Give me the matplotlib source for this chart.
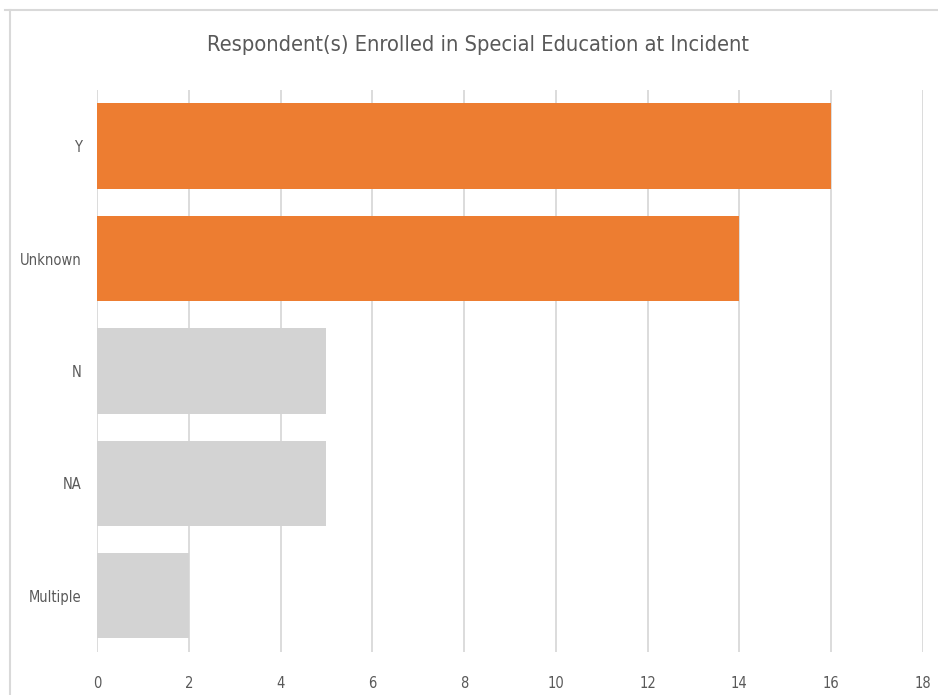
import matplotlib
matplotlib.use("Agg")
import matplotlib.pyplot as plt
from matplotlib.lines import Line2D

categories = ["Y", "Unknown", "N", "NA", "Multiple"]
counts = [16, 14, 5, 5, 2]
highlight = [True, True, False, False, False]
x_ticks = [0, 2, 4, 6, 8, 10, 12, 14, 16, 18]
title = "Respondent(s) Enrolled in Special Education at Incident"

ORANGE = "#ED7D31"
GRAY = "#D3D3D3"
TEXT = "#595959"
GRID = "#D9D9D9"

plt.rcParams["font.family"] = ["DejaVu Sans"]
plt.rcParams["font.stretch"] = "condensed"

fig = plt.figure(figsize=(9.38, 6.95), dpi=100)
ax = fig.add_axes([0.1034, 0.0619, 0.8806, 0.8086])

ypos = list(range(len(categories)))
colors = [ORANGE if h else GRAY for h in highlight]
ax.barh(ypos, counts, height=0.76, color=colors, zorder=3)

ax.set_ylim(len(categories) - 0.5, -0.5)
ax.set_xlim(0, 18)
ax.set_yticks(ypos)
ax.set_yticklabels(categories)
ax.set_xticks(x_ticks)
ax.set_xticklabels([str(t) for t in x_ticks])

ax.grid(axis="x", color=GRID, linewidth=1.3, zorder=0)
ax.grid(axis="y", visible=False)
for s in ax.spines.values():
    s.set_visible(False)
ax.tick_params(axis="both", length=0, colors=TEXT, labelsize=10.5)
ax.tick_params(axis="x", pad=17)
ax.tick_params(axis="y", pad=11)

fig.text(0.51, 0.935, title, ha="center", va="center", fontsize=15.7, color=TEXT)

# chart frame
fig.add_artist(Line2D([5 / 938, 1.0], [1 - 10 / 695, 1 - 10 / 695],
                      transform=fig.transFigure, color=GRID, linewidth=1.5))
fig.add_artist(Line2D([10 / 938, 10 / 938], [0.0, 1 - 10 / 695],
                      transform=fig.transFigure, color=GRID, linewidth=1.5))

fig.savefig("out.png", dpi=100)
